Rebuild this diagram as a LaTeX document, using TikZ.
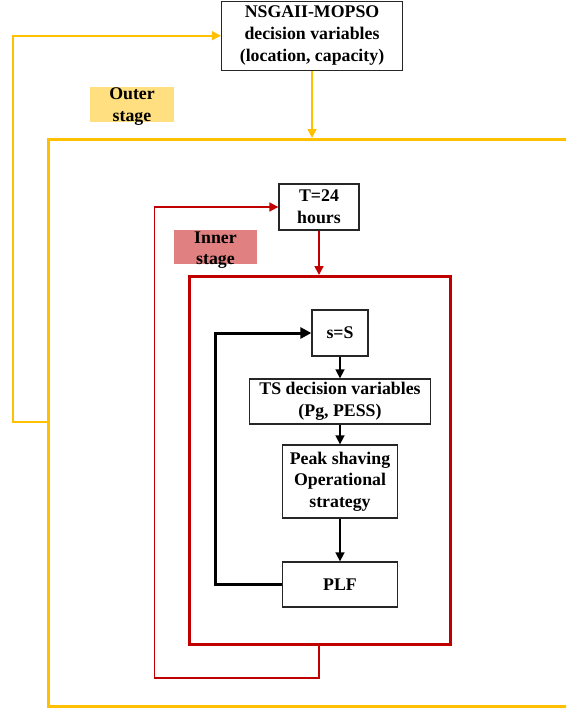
\documentclass[tikz,border=0pt]{standalone}
\usepackage{fontspec}
\setmainfont{Liberation Serif}
\usetikzlibrary{arrows.meta,positioning}
\definecolor{ylw}{HTML}{FFC000}
\definecolor{ylwfill}{HTML}{FFDF80}
\definecolor{rd}{HTML}{C00000}
\definecolor{rdfill}{HTML}{E08080}
\definecolor{bx}{HTML}{262626}
\tikzset{
  box/.style={draw=bx,line width=1.3pt,fill=white,inner sep=0pt,align=center,
    font=\fontsize{17.8}{21.7}\selectfont\bfseries},
  lbl/.style={inner sep=0pt,align=center,font=\fontsize{17.8}{21.7}\selectfont\bfseries},
  arr/.style={-{Triangle[length=9pt,width=9pt]}},
  ythin/.style={draw=ylw,line width=1.7pt},
  ythick/.style={draw=ylw,line width=3pt},
  rthin/.style={draw=rd,line width=1.6pt},
  rthick/.style={draw=rd,line width=3.2pt},
  kthin/.style={draw=black,line width=1.6pt},
  kthick/.style={draw=black,line width=3pt},
}
\begin{document}
\begin{tikzpicture}[x=1pt,y=-1pt]
\path[use as bounding box] (0,0) rectangle (566,709);
\clip (0,0) rectangle (566,709);
% outer and inner frames
\node[ythick,minimum width=573pt,minimum height=567pt,inner sep=0pt,anchor=north west] (outer) at (47,138) {};
\node[rthick,minimum width=261pt,minimum height=368pt,inner sep=0pt,anchor=north west] (inner) at (188,275) {};
% labels
\node[fill=ylwfill,minimum width=84pt,minimum height=35pt,inner sep=0pt] (outerbg) at (132,104.5) {};
\node[lbl] (outerlbl) at (132,106.5) {Outer\\stage};
\node[fill=rdfill,minimum width=83pt,minimum height=34pt,inner sep=0pt] (innerbg) at (215.5,247) {};
\node[lbl] (innerlbl) at (215.5,250) {Inner\\stage};
% boxes
\node[box,minimum width=181pt,minimum height=69pt] (top) at (312,35.7) {NSGAII-MOPSO\\decision variables\\(location, capacity)};
\node[box,minimum width=80pt,minimum height=46pt] (T) at (319,207) {T=24\\hours};
\node[box,minimum width=56pt,minimum height=46pt] (sS) at (340,333) {s=S};
\node[box,minimum width=181pt,minimum height=45pt] (TS) at (340,401.5) {TS decision variables\\(Pg, PESS)};
\node[box,minimum width=115pt,minimum height=73pt] (PS) at (340,481.5) {Peak shaving\\Operational\\strategy};
\node[box,minimum width=115pt,minimum height=45pt] (PLF) at (340,584.5) {PLF};
% coordinates for loops
\coordinate (ofb) at (outer.west |- 0,422);
\coordinate (oleft) at (13,422);
\coordinate (rfb) at (T.south |- inner.south);
\coordinate (rbot) at (T.south |- 0,678);
\coordinate (rleft) at (154.5,678);
\coordinate (kleft) at (215.5,584.5);
% outer stage connectors
\draw[ythin,arr] (top.south) -- (top.south |- outer.north);
\draw[ythin,arr] (ofb) -- (oleft) |- (top.west);
% inner stage connectors
\draw[rthin,arr] (T.south) -- (T.south |- inner.north);
\draw[rthin,arr] (rfb) -- (rbot) -- (rleft) |- (T.west);
% inner loop
\draw[kthin,arr] (sS.south) -- (TS.north);
\draw[kthin,arr] (TS.south) -- (PS.north);
\draw[kthin,arr] (PS.south) -- (PLF.north);
\draw[kthick,-{Triangle[length=11pt,width=11pt]}] (PLF.west) -- (kleft) |- (sS.west);
\end{tikzpicture}
\end{document}
